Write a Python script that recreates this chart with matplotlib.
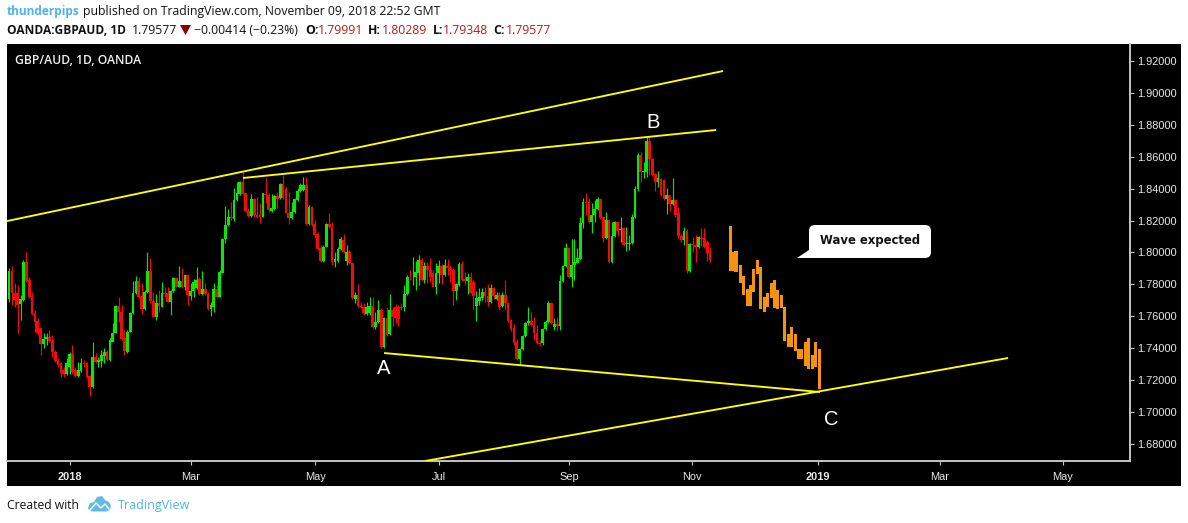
import matplotlib
matplotlib.use('Agg')
import matplotlib.pyplot as plt
from matplotlib.lines import Line2D
from matplotlib.patches import Rectangle, Polygon, FancyBboxPatch
from matplotlib.transforms import IdentityTransform

# candles, left to right, one per trading day
opens = [1.7708,1.7884,1.7744,1.7744,1.7675,1.7702,1.7938,1.7828,1.7727,1.7619,1.7573,1.7525,1.7427,1.7456,1.7468,1.7452,1.7378,1.7322,1.7310,1.7264,
         1.7239,1.7285,1.7364,1.7264,1.7228,1.7257,1.7310,1.7305,1.7226,1.7155,1.7347,1.7316,1.7322,1.7351,1.7378,1.7326,1.7441,1.7498,1.7667,1.7625,
         1.7462,1.7378,1.7504,1.7619,1.7744,1.7823,1.7727,1.7646,1.7750,1.7884,1.7698,1.7598,1.7681,1.7661,1.7744,1.7744,1.7692,1.7761,1.7838,1.7786,
         1.7821,1.7782,1.7857,1.7727,1.7761,1.7775,1.7832,1.7740,1.7769,1.7740,1.7646,1.7661,1.7769,1.7723,1.7874,1.8085,1.8172,1.8225,1.8208,1.8329,
         1.8367,1.8444,1.8371,1.8262,1.8229,1.8333,1.8235,1.8235,1.8225,1.8367,1.8360,1.8262,1.8270,1.8354,1.8339,1.8429,1.8396,1.8250,1.8214,1.8256,
         1.8329,1.8387,1.8392,1.8423,1.8179,1.8287,1.8179,1.8116,1.8026,1.7947,1.8037,1.8179,1.8158,1.7943,1.7949,1.8020,1.8078,1.7949,1.8005,1.7932,
         1.7708,1.7734,1.7665,1.7661,1.7615,1.7619,1.7665,1.7531,1.7567,1.7640,1.7410,1.7587,1.7489,1.7640,1.7656,1.7656,1.7656,1.7656,1.7740,1.7849,
         1.7844,1.7844,1.7869,1.7953,1.7828,1.7915,1.7890,1.7874,1.7786,1.7869,1.7915,1.7859,1.7915,1.7901,1.7890,1.7761,1.7796,1.7928,1.7832,1.7823,
         1.7844,1.7817,1.7665,1.7698,1.7713,1.7755,1.7727,1.7692,1.7775,1.7706,1.7734,1.7665,1.7734,1.7686,1.7577,1.7525,1.7441,1.7332,1.7393,1.7477,
         1.7556,1.7573,1.7546,1.7498,1.7435,1.7431,1.7518,1.7567,1.7686,1.7535,1.7552,1.7539,1.7823,1.7915,1.8026,1.7844,1.7922,1.7936,1.7957,1.8187,
         1.8314,1.8314,1.8193,1.8235,1.8270,1.8333,1.8220,1.8089,1.8204,1.7942,1.8103,1.8193,1.8141,1.8151,1.8053,1.8053,1.8057,1.8220,1.8396,1.8611,
         1.8507,1.8507,1.8701,1.8584,1.8492,1.8444,1.8459,1.8454,1.8333,1.8360,1.8304,1.8329,1.8250,1.8103,1.8078,1.8137,1.7886,1.8053,1.8047,1.8032,
         1.8089,1.8089,1.8068,1.8005]
highs = [1.7901,1.7915,1.7807,1.7796,1.7734,1.7953,1.8005,1.7849,1.7755,1.7640,1.7587,1.7535,1.7498,1.7493,1.7514,1.7483,1.7389,1.7337,1.7316,1.7285,
         1.7337,1.7378,1.7420,1.7285,1.7316,1.7337,1.7326,1.7316,1.7232,1.7439,1.7372,1.7347,1.7389,1.7399,1.7389,1.7462,1.7556,1.7671,1.7723,1.7671,
         1.7514,1.7514,1.7629,1.7823,1.7853,1.7844,1.7807,1.7765,1.8001,1.7963,1.7755,1.7740,1.7765,1.7817,1.7786,1.7786,1.7765,1.7849,1.7849,1.7915,
         1.7901,1.7865,1.7865,1.7807,1.7832,1.7907,1.7849,1.7886,1.7807,1.7755,1.7692,1.7807,1.7796,1.7890,1.8089,1.8291,1.8270,1.8319,1.8402,1.8444,
         1.8450,1.8507,1.8371,1.8277,1.8367,1.8339,1.8350,1.8308,1.8375,1.8465,1.8371,1.8367,1.8360,1.8381,1.8438,1.8486,1.8413,1.8381,1.8319,1.8339,
         1.8402,1.8438,1.8475,1.8475,1.8298,1.8291,1.8204,1.8130,1.8047,1.8047,1.8187,1.8245,1.8193,1.8005,1.8032,1.8099,1.8116,1.8047,1.8016,1.7936,
         1.7755,1.7802,1.7692,1.7686,1.7692,1.7723,1.7723,1.7629,1.7702,1.7650,1.7598,1.7661,1.7740,1.7656,1.7677,1.7671,1.7681,1.7796,1.7859,1.7890,
         1.7970,1.7949,1.7984,1.7963,1.7943,1.7943,1.7963,1.7890,1.7932,1.7953,1.7928,1.7957,1.7957,1.7922,1.7901,1.7807,1.7943,1.7949,1.7880,1.7869,
         1.7880,1.7828,1.7761,1.7775,1.7775,1.7786,1.7802,1.7802,1.7782,1.7755,1.7755,1.7755,1.7828,1.7692,1.7581,1.7552,1.7456,1.7399,1.7483,1.7567,
         1.7661,1.7629,1.7598,1.7546,1.7452,1.7525,1.7577,1.7698,1.7692,1.7587,1.7594,1.7859,1.7922,1.8057,1.8032,1.8082,1.8082,1.8026,1.8225,1.8339,
         1.8375,1.8339,1.8308,1.8329,1.8346,1.8339,1.8225,1.8256,1.8208,1.8193,1.8199,1.8193,1.8220,1.8158,1.8162,1.8110,1.8241,1.8417,1.8621,1.8632,
         1.8569,1.8722,1.8730,1.8590,1.8496,1.8513,1.8465,1.8459,1.8402,1.8360,1.8465,1.8333,1.8287,1.8116,1.8158,1.8145,1.8057,1.8099,1.8110,1.8103,
         1.8151,1.8151,1.8078,1.8032]
lows = [1.7692,1.7671,1.7661,1.7498,1.7577,1.7698,1.7817,1.7713,1.7608,1.7504,1.7483,1.7358,1.7399,1.7420,1.7441,1.7347,1.7316,1.7285,1.7222,1.7222,
        1.7232,1.7239,1.7239,1.7222,1.7222,1.7253,1.7285,1.7211,1.7101,1.7149,1.7310,1.7285,1.7280,1.7305,1.7322,1.7322,1.7437,1.7493,1.7567,1.7452,
        1.7358,1.7372,1.7500,1.7615,1.7740,1.7713,1.7615,1.7640,1.7744,1.7681,1.7594,1.7577,1.7629,1.7656,1.7723,1.7688,1.7608,1.7755,1.7782,1.7782,
        1.7775,1.7765,1.7671,1.7702,1.7723,1.7769,1.7736,1.7736,1.7734,1.7640,1.7604,1.7629,1.7715,1.7719,1.7869,1.8062,1.8166,1.8204,1.8199,1.8325,
        1.8360,1.8360,1.8256,1.8225,1.8225,1.8225,1.8214,1.8183,1.8220,1.8308,1.8256,1.8256,1.8266,1.8277,1.8333,1.8333,1.8245,1.8179,1.8208,1.8250,
        1.8325,1.8381,1.8387,1.8172,1.8172,1.8166,1.8089,1.8016,1.7943,1.7943,1.8032,1.8151,1.7922,1.7907,1.7943,1.8016,1.7999,1.7922,1.7928,1.7708,
        1.7681,1.7656,1.7652,1.7608,1.7608,1.7608,1.7525,1.7518,1.7560,1.7399,1.7399,1.7479,1.7483,1.7539,1.7556,1.7539,1.7640,1.7635,1.7734,1.7828,
        1.7796,1.7765,1.7796,1.7823,1.7811,1.7811,1.7817,1.7782,1.7740,1.7807,1.7803,1.7853,1.7859,1.7817,1.7671,1.7702,1.7790,1.7823,1.7796,1.7740,
        1.7744,1.7640,1.7573,1.7671,1.7702,1.7692,1.7665,1.7686,1.7706,1.7702,1.7640,1.7661,1.7640,1.7567,1.7510,1.7420,1.7326,1.7295,1.7389,1.7473,
        1.7546,1.7539,1.7452,1.7427,1.7416,1.7420,1.7514,1.7560,1.7552,1.7514,1.7510,1.7514,1.7817,1.7911,1.7838,1.7786,1.7828,1.7932,1.7953,1.8151,
        1.8235,1.8187,1.8120,1.8193,1.8266,1.8208,1.8068,1.8083,1.7936,1.7936,1.8099,1.8103,1.8068,1.8040,1.8011,1.8015,1.8053,1.8214,1.8387,1.8444,
        1.8465,1.8475,1.8486,1.8480,1.8387,1.8413,1.8354,1.8329,1.8241,1.8262,1.8298,1.8225,1.8089,1.8068,1.8047,1.7869,1.7880,1.8005,1.7942,1.8026,
        1.8040,1.8026,1.7949,1.7940]
closes = [1.7884,1.7744,1.7702,1.7671,1.7706,1.7943,1.7821,1.7723,1.7615,1.7567,1.7493,1.7427,1.7456,1.7473,1.7447,1.7378,1.7322,1.7295,1.7243,1.7239,
          1.7305,1.7364,1.7253,1.7226,1.7264,1.7305,1.7301,1.7218,1.7155,1.7343,1.7316,1.7326,1.7358,1.7378,1.7326,1.7452,1.7498,1.7667,1.7629,1.7456,
          1.7385,1.7504,1.7619,1.7744,1.7823,1.7723,1.7646,1.7750,1.7884,1.7698,1.7598,1.7681,1.7665,1.7744,1.7740,1.7692,1.7761,1.7838,1.7786,1.7821,
          1.7782,1.7857,1.7734,1.7761,1.7817,1.7828,1.7740,1.7769,1.7740,1.7646,1.7671,1.7769,1.7719,1.7880,1.8085,1.8172,1.8225,1.8214,1.8329,1.8371,
          1.8444,1.8367,1.8262,1.8229,1.8333,1.8235,1.8225,1.8220,1.8371,1.8360,1.8266,1.8277,1.8354,1.8333,1.8429,1.8339,1.8250,1.8214,1.8256,1.8333,
          1.8387,1.8423,1.8423,1.8179,1.8287,1.8172,1.8110,1.8020,1.7947,1.8037,1.8179,1.8158,1.7943,1.7957,1.8020,1.8082,1.8005,1.8005,1.7936,1.7713,
          1.7734,1.7665,1.7661,1.7619,1.7656,1.7665,1.7531,1.7567,1.7640,1.7410,1.7587,1.7483,1.7640,1.7598,1.7587,1.7583,1.7652,1.7740,1.7849,1.7844,
          1.7849,1.7880,1.7953,1.7828,1.7915,1.7890,1.7844,1.7786,1.7874,1.7915,1.7859,1.7922,1.7901,1.7884,1.7761,1.7800,1.7928,1.7828,1.7823,1.7844,
          1.7748,1.7727,1.7713,1.7719,1.7755,1.7727,1.7692,1.7775,1.7727,1.7734,1.7661,1.7734,1.7686,1.7573,1.7518,1.7431,1.7332,1.7393,1.7477,1.7556,
          1.7573,1.7546,1.7498,1.7435,1.7427,1.7518,1.7567,1.7686,1.7556,1.7552,1.7539,1.7823,1.7915,1.8026,1.7844,1.7922,1.7943,1.7963,1.8187,1.8314,
          1.8308,1.8193,1.8235,1.8270,1.8333,1.8214,1.8089,1.8204,1.7942,1.8103,1.8193,1.8137,1.8145,1.8047,1.8057,1.8057,1.8220,1.8396,1.8611,1.8507,
          1.8511,1.8701,1.8584,1.8486,1.8444,1.8465,1.8360,1.8333,1.8360,1.8304,1.8329,1.8235,1.8103,1.8078,1.8137,1.7886,1.8053,1.8047,1.8036,1.8099,
          1.8083,1.8036,1.7999,1.7953]

# the hand drawn orange wave (bar position, top, bottom)
wave_x = [250.1,251.1,252.0,253.6,254.7,255.9,256.9,258.0,259.4,260.6,261.8,263.0,264.4,265.4,266.4,267.9,268.9,270.2,271.3,272.7,273.8,274.8,276.0,277.0,278.5,279.6,281.0]
wave_top = [1.8166,1.8005,1.8009,1.7921,1.7852,1.7771,1.7796,1.7894,1.7953,1.7911,1.7719,1.7744,1.7806,1.7827,1.7765,1.7733,1.7656,1.7487,1.7531,1.7487,1.7395,1.7395,1.7439,1.7462,1.7357,1.7439,1.7393]
wave_bottom = [1.7886,1.7886,1.7880,1.7806,1.7731,1.7666,1.7666,1.7750,1.7865,1.7648,1.7629,1.7660,1.7712,1.7650,1.7643,1.7650,1.7443,1.7410,1.7405,1.7384,1.7330,1.7330,1.7288,1.7267,1.7267,1.7284,1.7144]

# trend lines (x1, x2), (y1, y2)
line_x = [(-0.69, 247.5), (81.1, 245.1), (130.0, 281.1), (144.2, 346.3)]
line_y = [(1.8197, 1.91373), (1.84668, 1.87676), (1.7370, 1.71258), (1.66934, 1.73389)]

price_ticks = [1.68,1.70,1.72,1.74,1.76,1.78,1.80,1.82,1.84,1.86,1.88,1.90,1.92]
time_ticks = [21.1,63.1,106.1,149.0,194.1,236.7,280.4,322.7,365.3]
time_labels = ['2018','Mar','May','Jul','Sep','Nov','2019','Mar','May']
bold_labels = ['2018','2019']

W, H = 1188, 523
GREEN = '#0ae60a'
RED = '#f50a0a'
ORANGE = '#f59210'
GREY = '#c4c4c4'
DARK = '#111111'
BLUE = '#4fb3e8'
UI = 'Open Sans'
PX = IdentityTransform()

def fx(px):
    return px / W

def fy(py):
    return 1 - py / H

def px_text(x, y, s, **kw):
    kw.setdefault('family', UI)
    kw.setdefault('fontsize', 8.8)
    kw.setdefault('color', DARK)
    kw.setdefault('va', 'center')
    return fig.text(fx(x), fy(y), s, **kw)

fig = plt.figure(figsize=(W / 100, H / 100), dpi=100, facecolor='white')

# black panel behind chart and both scales
fig.add_artist(Rectangle((7, H - 486), 1181 - 7, 486 - 44, transform=PX, facecolor='black', edgecolor='none', zorder=-1))

ax = fig.add_axes([fx(7), fy(461), fx(1130 - 7), (461 - 44) / H], facecolor='black')
ax.set_xlim(-0.693, 388.56)
ax.set_ylim(1.66934, 1.93065)

# candles
for i in range(len(opens)):
    col = GREEN if closes[i] >= opens[i] else RED
    ax.vlines(i, lows[i], highs[i], color=col, linewidth=0.85, zorder=2)
    ax.bar(i, abs(closes[i] - opens[i]), bottom=min(opens[i], closes[i]), width=0.95, color=col, linewidth=0, zorder=3)

ax.bar(wave_x, [t - b for t, b in zip(wave_top, wave_bottom)], bottom=wave_bottom, width=1.1, color=ORANGE, linewidth=0, zorder=3)

for xs, ys in zip(line_x, line_y):
    ax.plot(xs, ys, color='#ffff00', linewidth=1.35, zorder=4, solid_capstyle='butt')

for s in ['top', 'left']:
    ax.spines[s].set_visible(False)
for s in ['right', 'bottom']:
    ax.spines[s].set_color(GREY)
    ax.spines[s].set_linewidth(1.4)

ax.yaxis.tick_right()
ax.set_yticks(price_ticks)
ax.set_yticklabels(['%.5f' % p for p in price_ticks], family='Liberation Sans', fontsize=7.9, color='#e8e8e8')
ax.set_xticks(time_ticks)
ax.set_xticklabels(time_labels, family='Liberation Sans', fontsize=7.9, color='#e8e8e8')
for lab in ax.get_xticklabels():
    if lab.get_text() in bold_labels:
        lab.set_fontweight('bold')
ax.tick_params(axis='y', color=GREY, length=3, width=0.8, pad=2)
ax.tick_params(axis='x', color=GREY, length=3, width=0.8, pad=5)

# wave labels
ax.text(129.7, 1.7270, 'A', color='white', family='Liberation Sans', fontsize=14.5, ha='center', va='center', zorder=5)
ax.text(223.2, 1.8812, 'B', color='white', family='Liberation Sans', fontsize=14.5, ha='center', va='center', zorder=5)
ax.text(285, 1.6952, 'C', color='white', family='Liberation Sans', fontsize=14.5, ha='center', va='center', zorder=5)

# callout
fig.add_artist(FancyBboxPatch((809, H - 258), 122, 33, boxstyle='round,pad=0,rounding_size=6', transform=PX, facecolor='white', edgecolor='none', zorder=6))
fig.add_artist(Polygon([(797, H - 258), (809, H - 250), (816, H - 258)], closed=True, transform=PX, facecolor='white', edgecolor='none', zorder=6))
px_text(870.5, 240.5, 'Wave expected', family='DejaVu Sans', fontweight='bold', fontsize=8.4, ha='center', color='#141414', zorder=7)

# header rows
px_text(7, 11.5, 'thunderpips', fontweight='bold', color=BLUE, fontsize=8.6)
px_text(83, 11.5, 'published on TradingView.com, November 09, 2018 22:52 GMT')
px_text(7, 30, 'OANDA:GBPAUD, 1D', fontweight='bold', fontsize=8.6)
px_text(131.5, 30, '1.79577')
fig.add_artist(Polygon([(180, H - 25), (191, H - 25), (185.5, H - 35)], closed=True, transform=PX, facecolor='#8b0000', edgecolor='none'))
px_text(194, 30, '\u22120.00414 (\u22120.23%)')
px_text(305, 30, 'O:', fontweight='bold')
px_text(318, 30, '1.79991', color='#b01c1c')
px_text(368, 30, 'H:', fontweight='bold')
px_text(382, 30, '1.80289', color='#b01c1c')
px_text(433, 30, 'L:', fontweight='bold')
px_text(443, 30, '1.79348', color='#b01c1c')
px_text(493, 30, 'C:', fontweight='bold')
px_text(506, 30, '1.79577', color='#b01c1c')
px_text(15, 60.5, 'GBP/AUD, 1D, OANDA', fontweight='semibold', color='#f0f0f0', fontsize=8.7)

# footer
px_text(7, 505.5, 'Created with', fontsize=8.7)
logo_pts = [(88, 508), (90, 503), (94, 502), (97, 497), (102, 496), (105, 500), (109, 502), (111, 506), (110, 510), (106, 511.5), (92, 511.5), (89, 510)]
fig.add_artist(Polygon([(a, H - b) for a, b in logo_pts], closed=True, transform=PX, facecolor='#63b9e6', edgecolor='none'))
fig.add_artist(Line2D([90, 96, 101, 105, 109], [H - 510, H - 503, H - 508, H - 504, H - 509], transform=PX, color='white', linewidth=1.0))
px_text(118, 505.5, 'TradingView', color=BLUE, fontsize=9)

fig.savefig('out.png', dpi=100, facecolor='white')
